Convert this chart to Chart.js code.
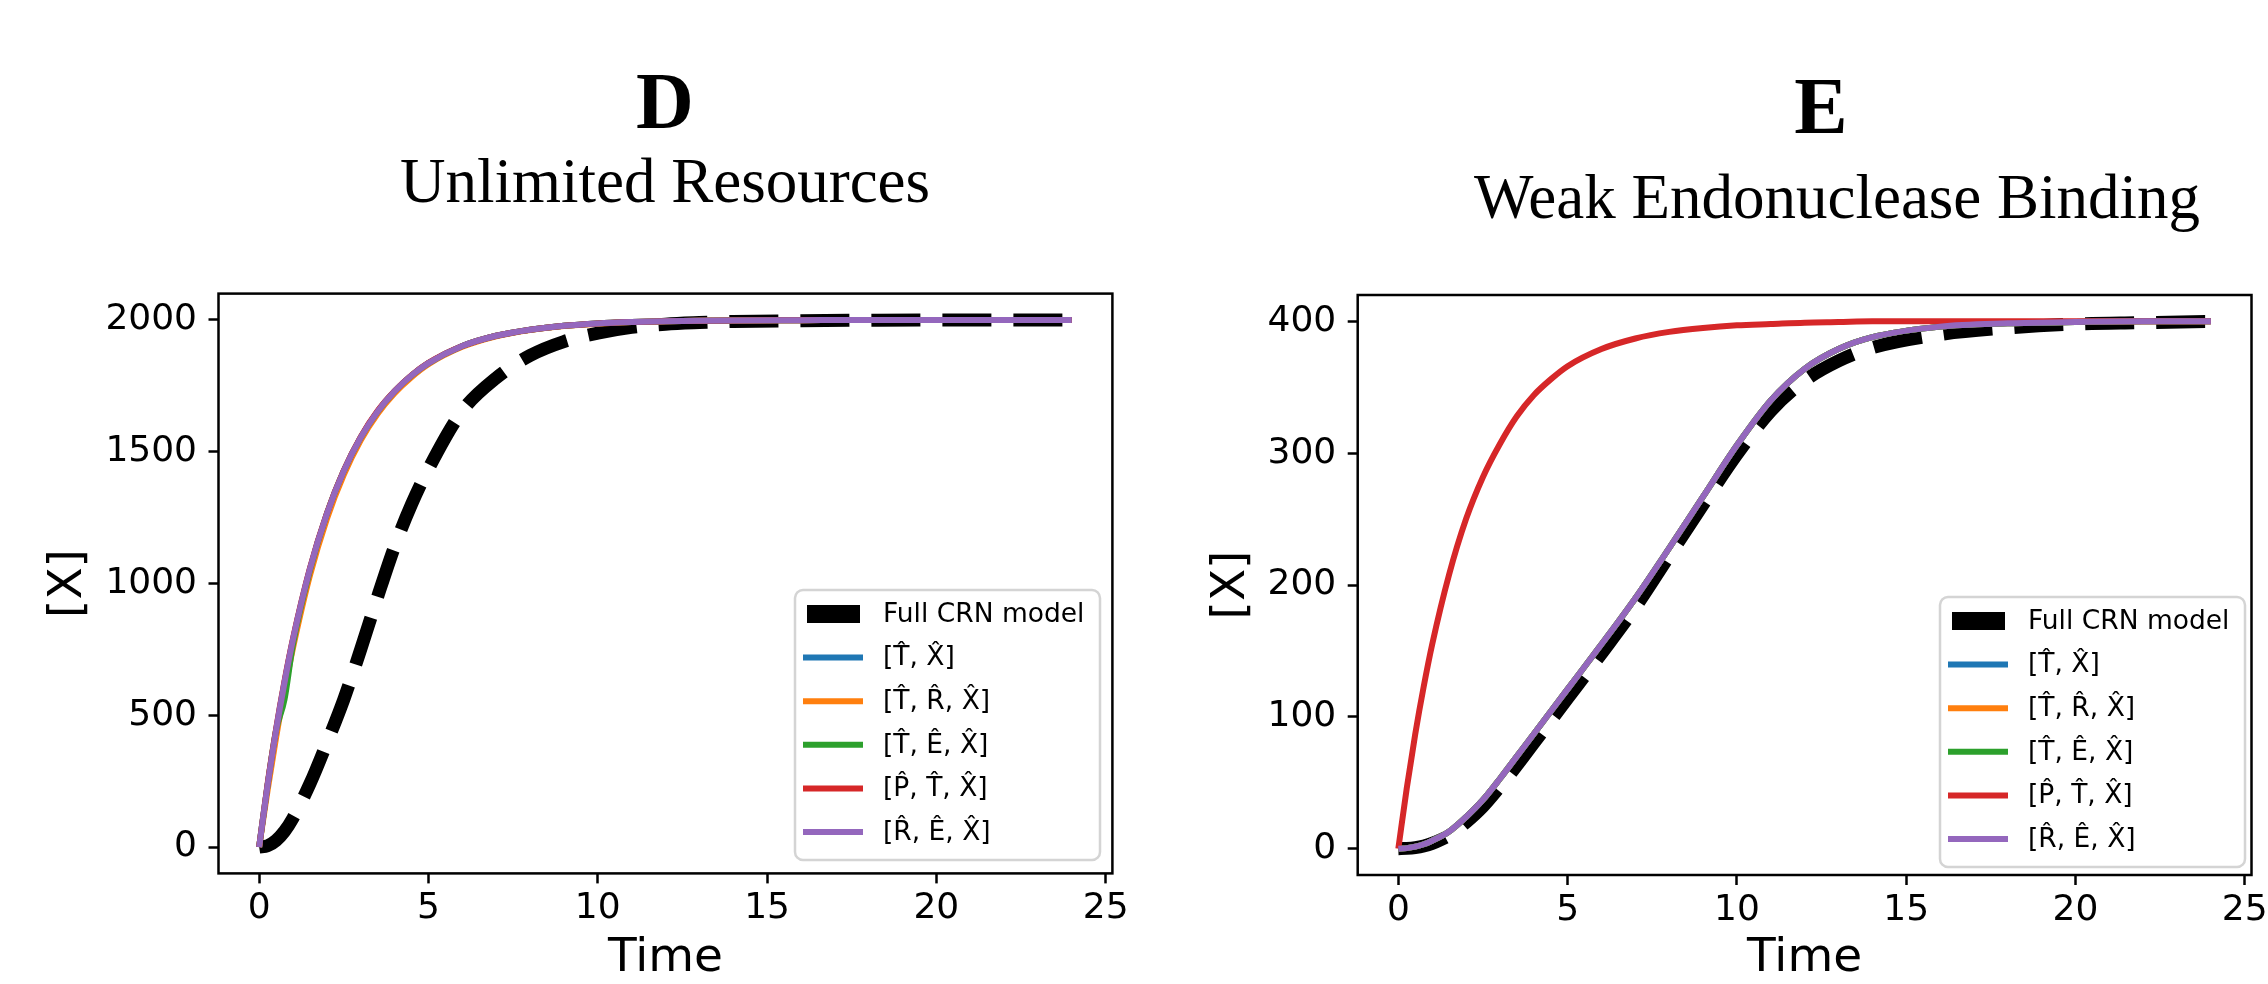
<!DOCTYPE html>
<html>
<head>
<meta charset="utf-8">
<title>Full CRN model vs reduced models</title>
<script src="https://cdn.jsdelivr.net/npm/chart.js@4.4.1/dist/chart.umd.min.js"></script>
<style>
  html, body { margin: 0; padding: 0; background: #fff; }
  #figure { position: relative; width: 2268px; height: 984px; }
  #figure canvas { position: absolute; top: 0; }
  #panelD { left: 0; }
  #panelE { left: 1134px; }
</style>
</head>
<body>
<div id="figure">
  <canvas id="panelD" width="1134" height="984"></canvas>
  <canvas id="panelE" width="1134" height="984"></canvas>
</div>
<script>
// sample times shared by every trace
const timePoints = [0, 0.25, 0.5, 0.75, 1, 1.5, 2, 2.5, 3, 3.5, 4, 4.5, 5, 6, 7, 8, 9, 10, 11, 12, 13, 14, 16, 18, 20, 22, 24];

const seriesLabels = ['Full CRN model', '[T\u0302, X\u0302]', '[T\u0302, R\u0302, X\u0302]', '[T\u0302, E\u0302, X\u0302]', '[P\u0302, T\u0302, X\u0302]', '[R\u0302, E\u0302, X\u0302]'];
const seriesColors = ['#000000', '#1f77b4', '#ff7f0e', '#2ca02c', '#d62728', '#9467bd'];

// axis ticks
const timeTicks = [0, 5, 10, 15, 20, 25];
const ticksD = [0, 500, 1000, 1500, 2000];
const ticksE = [0, 100, 200, 300, 400];

// D: unlimited resources
const d_full = [0, 5, 25, 60, 110, 240, 395, 560, 750, 950, 1140, 1300, 1435, 1655, 1780, 1865, 1918, 1950, 1972, 1984, 1990, 1994, 1997, 1999, 2000, 2000, 2000];
const d_TX  = [0, 235, 442, 625, 787, 1055, 1264, 1427, 1554, 1653, 1729, 1789, 1836, 1901, 1940, 1963, 1978, 1987, 1992, 1995, 1997, 1998, 1999, 2000, 2000, 2000, 2000];
const d_TRX = [0, 215, 415, 595, 755, 1030, 1245, 1412, 1543, 1644, 1722, 1783, 1832, 1898, 1938, 1962, 1977, 1986, 1992, 1995, 1997, 1998, 1999, 2000, 2000, 2000, 2000];
const d_TEX = [0, 235, 442, 560, 770, 1050, 1264, 1427, 1554, 1653, 1729, 1789, 1836, 1901, 1940, 1963, 1978, 1987, 1992, 1995, 1997, 1998, 1999, 2000, 2000, 2000, 2000];
const d_PTX = [0, 240, 447, 630, 791, 1058, 1266, 1429, 1556, 1655, 1730, 1790, 1837, 1901, 1940, 1963, 1978, 1987, 1992, 1995, 1997, 1998, 1999, 2000, 2000, 2000, 2000];
const d_REX = [0, 235, 442, 625, 787, 1055, 1264, 1427, 1554, 1653, 1729, 1789, 1836, 1901, 1940, 1963, 1978, 1987, 1992, 1995, 1997, 1998, 1999, 2000, 2000, 2000, 2000];

// E: weak endonuclease binding
const e_full = [0, 0.2, 0.8, 2, 4, 10, 20, 32, 47, 63, 80, 97, 114, 148, 183, 222, 261, 299, 332, 355, 370, 380, 390, 395, 398, 399, 400];
const e_TX  = [0, 0.4, 1.5, 3.3, 6, 13, 24, 37, 53, 70, 87, 104, 121, 155, 190, 228, 267, 306, 340, 364, 379, 388, 396, 398.5, 399.5, 400, 400];
const e_TRX = [0, 0.4, 1.5, 3.3, 6, 13, 24, 37, 53, 70, 87, 104, 121, 155, 190, 228, 267, 306, 340, 364, 379, 388, 396, 398.5, 399.5, 400, 400];
const e_TEX = [0, 0.4, 1.5, 3.3, 6, 13, 24, 37, 53, 70, 87, 104, 121, 155, 190, 228, 267, 306, 340, 364, 379, 388, 396, 398.5, 399.5, 400, 400];
const e_PTX = [0, 46, 87, 123, 155, 208, 250, 282, 307, 328, 344, 356, 366, 379, 387, 392, 395, 397, 398, 399, 399.5, 400, 400, 400, 400, 400, 400];
const e_REX = [0, 0.4, 1.5, 3.3, 6, 13, 24, 37, 53, 70, 87, 104, 121, 155, 190, 228, 267, 306, 340, 364, 379, 388, 396, 398.5, 399.5, 400, 400];

const tickFont = { family: 'DejaVu Sans', size: 36 };
const axisTitleFont = { family: 'DejaVu Sans', size: 47, lineHeight: 1 };

// frame, panel titles and legend box
const panelDecor = {
  id: 'panelDecor',
  afterDraw(chart, args, opts) {
    const ctx = chart.ctx;
    const area = chart.chartArea;
    ctx.save();

    ctx.strokeStyle = '#000';
    ctx.lineWidth = 2.5;
    ctx.strokeRect(area.left, area.top, area.right - area.left, area.bottom - area.top);

    ctx.fillStyle = '#000';
    ctx.textAlign = 'center';
    ctx.textBaseline = 'alphabetic';
    ctx.font = 'bold 80px "Liberation Serif"';
    ctx.fillText(opts.letter, opts.letterPos[0], opts.letterPos[1]);
    ctx.font = '63px "Liberation Serif"';
    ctx.fillText(opts.subtitle, opts.subtitlePos[0], opts.subtitlePos[1]);

    // legend in the lower right corner of the axes
    const w = 305, h = 270;
    const right = area.right - opts.legendInset[0];
    const bottom = area.bottom - opts.legendInset[1];
    const left = right - w, top = bottom - h;
    ctx.beginPath();
    ctx.roundRect(left, top, w, h, 8);
    ctx.fillStyle = 'rgba(255,255,255,0.8)';
    ctx.fill();
    ctx.strokeStyle = '#d4d4d4';
    ctx.lineWidth = 2.5;
    ctx.stroke();

    ctx.font = '26.5px "DejaVu Sans"';
    ctx.textAlign = 'left';
    ctx.textBaseline = 'middle';
    chart.data.datasets.forEach((ds, i) => {
      const y = top + 24 + i * 43.6;
      ctx.beginPath();
      ctx.strokeStyle = ds.borderColor;
      if (ds.borderDash.length) {
        ctx.lineWidth = 18;
        ctx.moveTo(left + 12, y);
        ctx.lineTo(left + 65, y);
      } else {
        ctx.lineWidth = ds.borderWidth;
        ctx.moveTo(left + 8, y);
        ctx.lineTo(left + 68, y);
      }
      ctx.stroke();
      ctx.fillStyle = '#000';
      ctx.fillText(ds.label, left + 88, y + 1);
    });
    ctx.restore();
  }
};

function buildDatasets(series) {
  return series.map((values, i) => ({
    label: seriesLabels[i],
    data: timePoints.map((t, k) => ({ x: t, y: values[k] })),
    borderColor: seriesColors[i],
    borderWidth: i === 0 ? 13 : 6,
    borderDash: i === 0 ? [49, 22] : [],
    pointRadius: 0,
    fill: false,
    cubicInterpolationMode: 'monotone',
    order: series.length - 1 - i
  }));
}

function makePanel(canvasId, series, yTicks, yRange, layout) {
  new Chart(document.getElementById(canvasId), {
    type: 'line',
    data: { datasets: buildDatasets(series) },
    plugins: [panelDecor],
    options: {
      responsive: false,
      animation: false,
      events: [],
      layout: { padding: { left: 0, right: layout.padRight, top: layout.padTop, bottom: 0 } },
      scales: {
        x: {
          type: 'linear',
          min: -1.2,
          max: 25.2,
          afterBuildTicks: s => { s.ticks = timeTicks.map(v => ({ value: v })); },
          afterFit: s => { s.height = layout.xHeight; s.paddingLeft = 0; s.paddingRight = 0; },
          grid: { drawOnChartArea: false, tickLength: 10, tickWidth: 2.5, tickColor: '#000' },
          border: { display: false },
          ticks: { color: '#000', font: tickFont, padding: 4, maxRotation: 0, autoSkip: false, callback: v => String(v) },
          title: { display: true, text: 'Time', color: '#000', font: axisTitleFont, padding: { top: 0, bottom: 2 } }
        },
        y: {
          type: 'linear',
          min: yRange[0],
          max: yRange[1],
          afterBuildTicks: s => { s.ticks = yTicks.map(v => ({ value: v })); },
          afterFit: s => { s.width = layout.yWidth; s.paddingTop = 0; s.paddingBottom = 0; },
          grid: { drawOnChartArea: false, tickLength: 10, tickWidth: 2.5, tickColor: '#000' },
          border: { display: false },
          ticks: { color: '#000', font: tickFont, padding: 11.5, autoSkip: false, callback: v => String(v) },
          title: { display: true, text: '[X]', color: '#000', font: axisTitleFont, padding: { top: layout.yTitlePad, bottom: 0 } }
        }
      },
      plugins: {
        legend: { display: false },
        tooltip: { enabled: false },
        panelDecor: layout.decor
      }
    }
  });
}

makePanel('panelD', [d_full, d_TX, d_TRX, d_TEX, d_PTX, d_REX], ticksD, [-100, 2100], {
  padRight: 21.6, padTop: 293.6, xHeight: 110.6, yWidth: 218.5, yTitlePad: 45,
  decor: { letter: 'D', letterPos: [665, 128], subtitle: 'Unlimited Resources', subtitlePos: [665, 202], legendInset: [12.4, 13.4] }
});

makePanel('panelE', [e_full, e_TX, e_TRX, e_TEX, e_PTX, e_REX], ticksE, [-20, 420], {
  padRight: 16.5, padTop: 295, xHeight: 109, yWidth: 223.7, yTitlePad: 74,
  decor: { letter: 'E', letterPos: [687, 133], subtitle: 'Weak Endonuclease Binding', subtitlePos: [703, 218], legendInset: [6.5, 8] }
});
</script>
</body>
</html>
